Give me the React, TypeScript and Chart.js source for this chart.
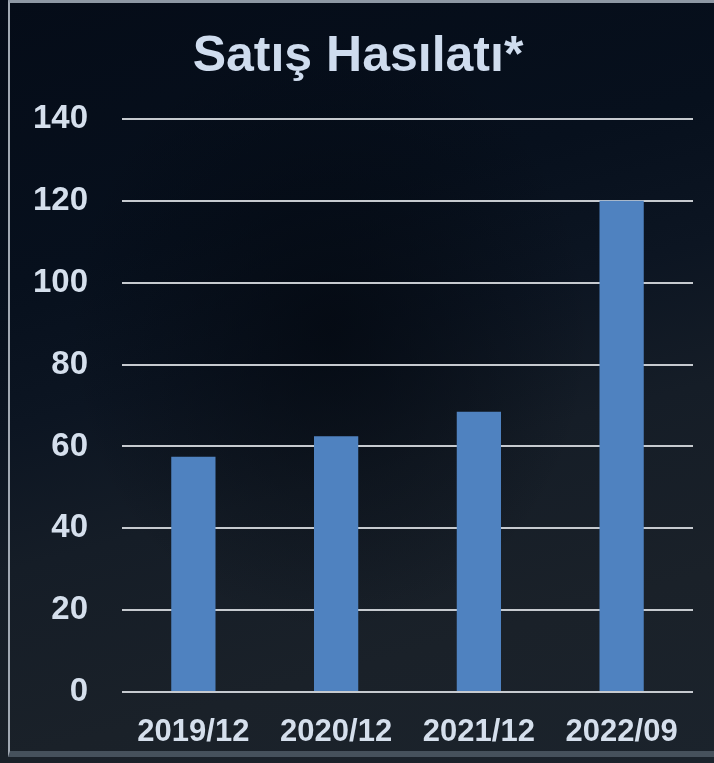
import React, { useEffect, useRef } from "react";
import { Chart, registerables } from "chart.js";

Chart.register(...registerables);

const titleText = "Satış Hasılatı*";
const categories = ["2019/12", "2020/12", "2021/12", "2022/09"];
const salesValues = [57.5, 62.5, 68.5, 120];
const yTicks = [0, 20, 40, 60, 80, 100, 120, 140];

const FONT = "'Liberation Sans', Arial, sans-serif";
const TEXT = "#d5dfec";

export default function App() {
  const ref = useRef<HTMLCanvasElement | null>(null);

  useEffect(() => {
    document.body.style.margin = "0";
    const canvas = ref.current;
    if (!canvas) return;
    const chart = new Chart(canvas, {
      type: "bar",
      data: {
        labels: categories,
        datasets: [
          {
            label: titleText,
            data: salesValues,
            backgroundColor: "#4f82c0",
            borderWidth: 0,
            categoryPercentage: 1,
            barPercentage: 0.31,
          },
        ],
      },
      options: {
        responsive: false,
        animation: false,
        layout: { padding: { top: 27, right: 21, bottom: 0, left: 23 } },
        plugins: {
          legend: { display: false },
          tooltip: { enabled: false },
          title: {
            display: true,
            text: titleText,
            color: "#cfdcee",
            font: { family: FONT, size: 50, weight: "bold" },
            padding: { top: 0, bottom: 32 },
          },
        },
        scales: {
          x: {
            grid: { display: false, drawTicks: false },
            border: { display: false },
            afterFit: (scale: any) => {
              scale.height = 71;
            },
            ticks: {
              color: TEXT,
              padding: 22,
              font: { family: FONT, size: 31, weight: "bold" },
              maxRotation: 0,
            },
          },
          y: {
            min: yTicks[0],
            max: yTicks[yTicks.length - 1],
            afterBuildTicks: (scale: any) => {
              scale.ticks = yTicks.map((v) => ({ value: v }));
            },
            afterFit: (scale: any) => {
              scale.width = 99;
            },
            grid: { color: "#c6cacf", lineWidth: 2, drawTicks: false },
            border: { display: false },
            ticks: {
              color: TEXT,
              padding: 34,
              font: { family: FONT, size: 33, weight: "bold" },
            },
          },
        },
      },
    });
    return () => chart.destroy();
  }, []);

  return (
    <div
      style={{
        position: "absolute",
        left: 0,
        top: 0,
        width: 714,
        height: 763,
        overflow: "hidden",
        background: "#0b1320",
      }}
    >
      <div
        style={{
          position: "absolute",
          left: 0,
          top: 0,
          width: 714,
          height: 763,
          background:
            "linear-gradient(165deg, #050c18 0%, #07101d 30%, #0c1522 45%, #151d27 60%, #1a2129 80%, #1b232c 100%)",
        }}
      />
      <div
        style={{
          position: "absolute",
          left: 0,
          top: 0,
          width: 714,
          height: 763,
          background:
            "radial-gradient(ellipse 260px 300px at 330px 330px, rgba(3,8,16,0.75), rgba(3,8,16,0) 100%)",
        }}
      />
      <div
        style={{
          position: "absolute",
          left: 8,
          top: 0,
          width: 706,
          height: 757,
          borderTop: "3px solid #8e98a4",
          borderLeft: "2px solid #a0a8b2",
          borderBottom: "6px solid #46515c",
          boxSizing: "border-box",
        }}
      />
      <canvas
        ref={ref}
        width={714}
        height={763}
        style={{ position: "absolute", left: 0, top: 0 }}
      />
    </div>
  );
}
